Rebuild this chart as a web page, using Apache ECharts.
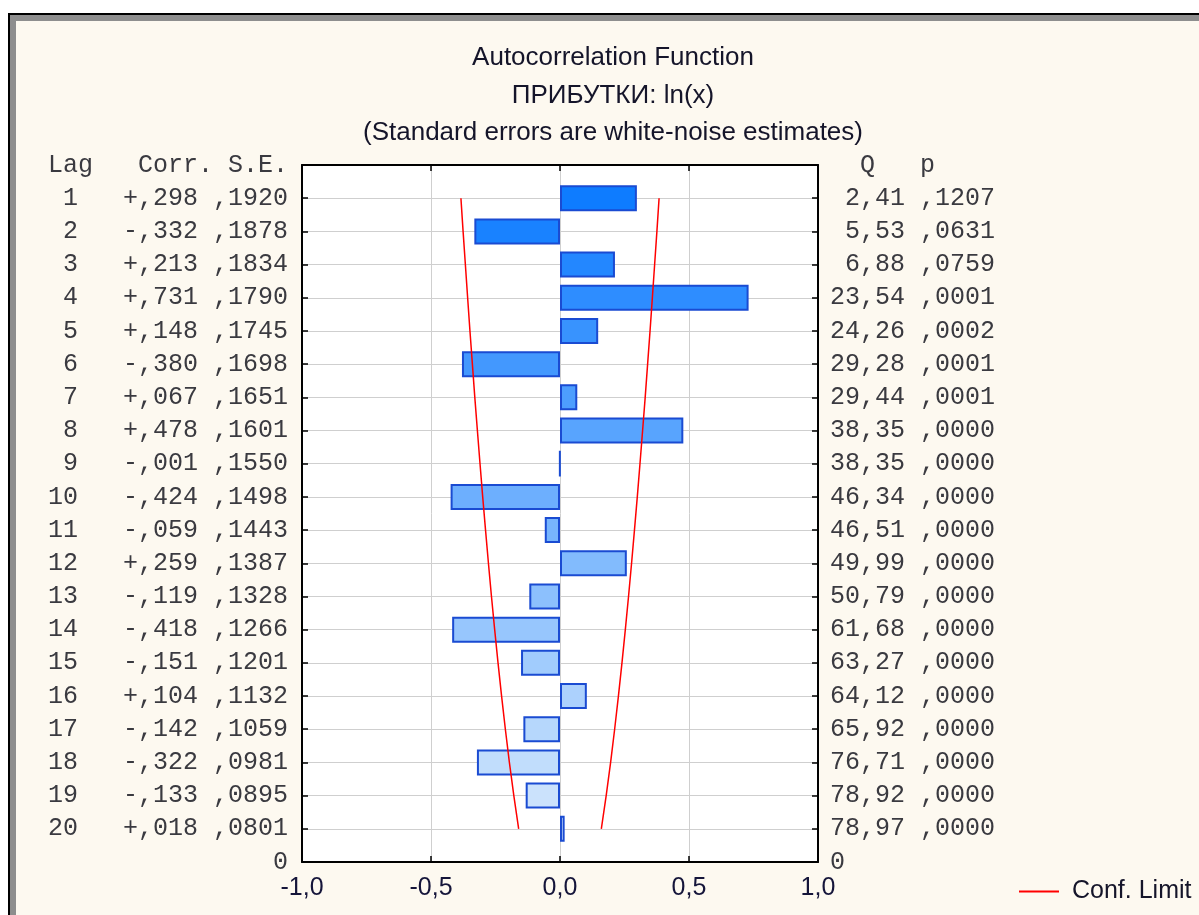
<!DOCTYPE html>
<html>
<head>
<meta charset="utf-8">
<script src="https://cdn.jsdelivr.net/npm/echarts@6/dist/echarts.min.js"></script>
<style>
html,body{margin:0;padding:0;background:#fff;width:1199px;height:915px;overflow:hidden;}
#frame{position:absolute;left:8px;top:13px;width:1300px;height:1000px;border-left:2px solid #000;border-top:2px solid #000;background:#FDF9F0;box-shadow:inset 6px 6px 0 #8e8e8e;}
#chart{position:absolute;left:0;top:0;width:1199px;height:915px;}
</style>
</head>
<body>
<div id="frame"></div>
<div id="chart"></div>
<script>
const lags = [1,2,3,4,5,6,7,8,9,10,11,12,13,14,15,16,17,18,19,20];
const corrLabels = ['+,298','-,332','+,213','+,731','+,148','-,380','+,067','+,478','-,001','-,424','-,059','+,259','-,119','-,418','-,151','+,104','-,142','-,322','-,133','+,018'];
const corr = [0.298,-0.332,0.213,0.731,0.148,-0.380,0.067,0.478,-0.001,-0.424,-0.059,0.259,-0.119,-0.418,-0.151,0.104,-0.142,-0.322,-0.133,0.018];
const seLabels = [',1920',',1878',',1834',',1790',',1745',',1698',',1651',',1601',',1550',',1498',',1443',',1387',',1328',',1266',',1201',',1132',',1059',',0981',',0895',',0801'];
const se = [0.1920,0.1878,0.1834,0.1790,0.1745,0.1698,0.1651,0.1601,0.1550,0.1498,0.1443,0.1387,0.1328,0.1266,0.1201,0.1132,0.1059,0.0981,0.0895,0.0801];
const qLabels = ['2,41','5,53','6,88','23,54','24,26','29,28','29,44','38,35','38,35','46,34','46,51','49,99','50,79','61,68','63,27','64,12','65,92','76,71','78,92','78,97'];
const pLabels = [',1207',',0631',',0759',',0001',',0002',',0001',',0001',',0000',',0000',',0000',',0000',',0000',',0000',',0000',',0000',',0000',',0000',',0000',',0000',',0000'];
const xTicks = [-1,-0.5,0,0.5,1];
const titleLines = ['Autocorrelation Function','ПРИБУТКИ: ln(x)','(Standard errors are white-noise estimates)'];
const leftHeader = 'Lag   Corr. S.E.';
const rightHeader = '  Q   p';

function pad(s,n){s=String(s);while(s.length<n)s=' '+s;return s;}
const cats = ['0'].concat(lags.map(String)).concat(['21']);
const leftTexts = [leftHeader].concat(lags.map((l,i)=>pad(l,2)+'   '+corrLabels[i]+' '+seLabels[i])).concat(['0']);
const rightTexts = [rightHeader].concat(lags.map((l,i)=>pad(qLabels[i],5)+' '+pLabels[i])).concat(['0']);

function barColor(i){
  const t=i/19;
  const a=[14,124,255], b=[214,232,252];
  const c=a.map((v,k)=>Math.round(v+(b[k]-v)*t));
  return 'rgb('+c.join(',')+')';
}
const barData = [null].concat(corr.map((v,i)=>({value:v,itemStyle:{color:barColor(i)}}))).concat([null]);
const upper = lags.map((l,i)=>[2*se[i], String(l)]);
const lower = lags.map((l,i)=>[-2*se[i], String(l)]);

const mono = 'Liberation Mono';
const sans = '"Liberation Sans", Arial';
const chart = echarts.init(document.getElementById('chart'));
chart.setOption({
  backgroundColor:'transparent',
  animation:false,
  graphic: titleLines.map((t,i)=>({type:'text',x:613,y:45+i*37.5,style:{text:t,font:'26px '+sans,fill:'#15152a',textAlign:'center'}})),
  legend:{
    data:['Conf. Limit'], left:1014, top:874, icon:'rect', itemWidth:40, itemHeight:2,
    textStyle:{fontFamily:sans, fontSize:25, color:'#15152a', padding:[0,0,0,8]}
  },
  grid:{left:302,right:381,top:165,bottom:53,show:true,backgroundColor:'#fff',borderWidth:0},
  xAxis:[{
    type:'value',min:-1,max:1,interval:0.5,position:'bottom',
    axisLine:{show:true,lineStyle:{color:'#000',width:2}},
    axisTick:{show:true,inside:true,length:6,lineStyle:{color:'#000',width:1.5}},
    splitLine:{show:true,lineStyle:{color:'#cfcfcf',width:1}},
    axisLabel:{margin:14,fontFamily:sans,fontSize:25,color:'#15153a',formatter:v=>v.toFixed(1).replace('.',',')}
  },{
    type:'value',min:-1,max:1,interval:0.5,position:'top',
    axisLine:{show:true,lineStyle:{color:'#000',width:2}},
    axisTick:{show:true,inside:true,length:6,lineStyle:{color:'#000',width:1.5}},
    splitLine:{show:false},axisLabel:{show:false}
  }],
  yAxis:[{
    type:'category',data:cats,inverse:true,boundaryGap:false,position:'left',
    axisLine:{show:true,onZero:false,lineStyle:{color:'#000',width:2}},
    axisTick:{show:true,inside:true,length:6,interval:0,lineStyle:{color:'#000',width:1.5}},
    splitLine:{show:true,interval:0,lineStyle:{color:'#cfcfcf',width:1}},
    axisLabel:{interval:0,margin:14,fontFamily:mono,fontSize:25,color:'#3a3a40',formatter:(v,i)=>leftTexts[i]}
  },{
    type:'category',data:cats,inverse:true,boundaryGap:false,position:'right',
    axisLine:{show:true,onZero:false,lineStyle:{color:'#000',width:2}},
    axisTick:{show:true,inside:true,length:6,interval:0,lineStyle:{color:'#000',width:1.5}},
    splitLine:{show:false},
    axisLabel:{interval:0,margin:12,fontFamily:mono,fontSize:25,color:'#3a3a40',formatter:(v,i)=>rightTexts[i]}
  }],
  series:[{
    type:'bar',xAxisIndex:0,yAxisIndex:0,data:barData,barWidth:26,
    itemStyle:{borderColor:'#1a4bd2',borderWidth:2}
  },{
    name:'Conf. Limit',type:'line',xAxisIndex:0,yAxisIndex:0,data:upper,symbol:'none',
    lineStyle:{color:'#ff0000',width:1.5},itemStyle:{color:'#ff0000'},z:5
  },{
    name:'Conf. Limit',type:'line',xAxisIndex:0,yAxisIndex:0,data:lower,symbol:'none',
    lineStyle:{color:'#ff0000',width:1.5},itemStyle:{color:'#ff0000'},z:5
  }]
});
</script>
</body>
</html>
